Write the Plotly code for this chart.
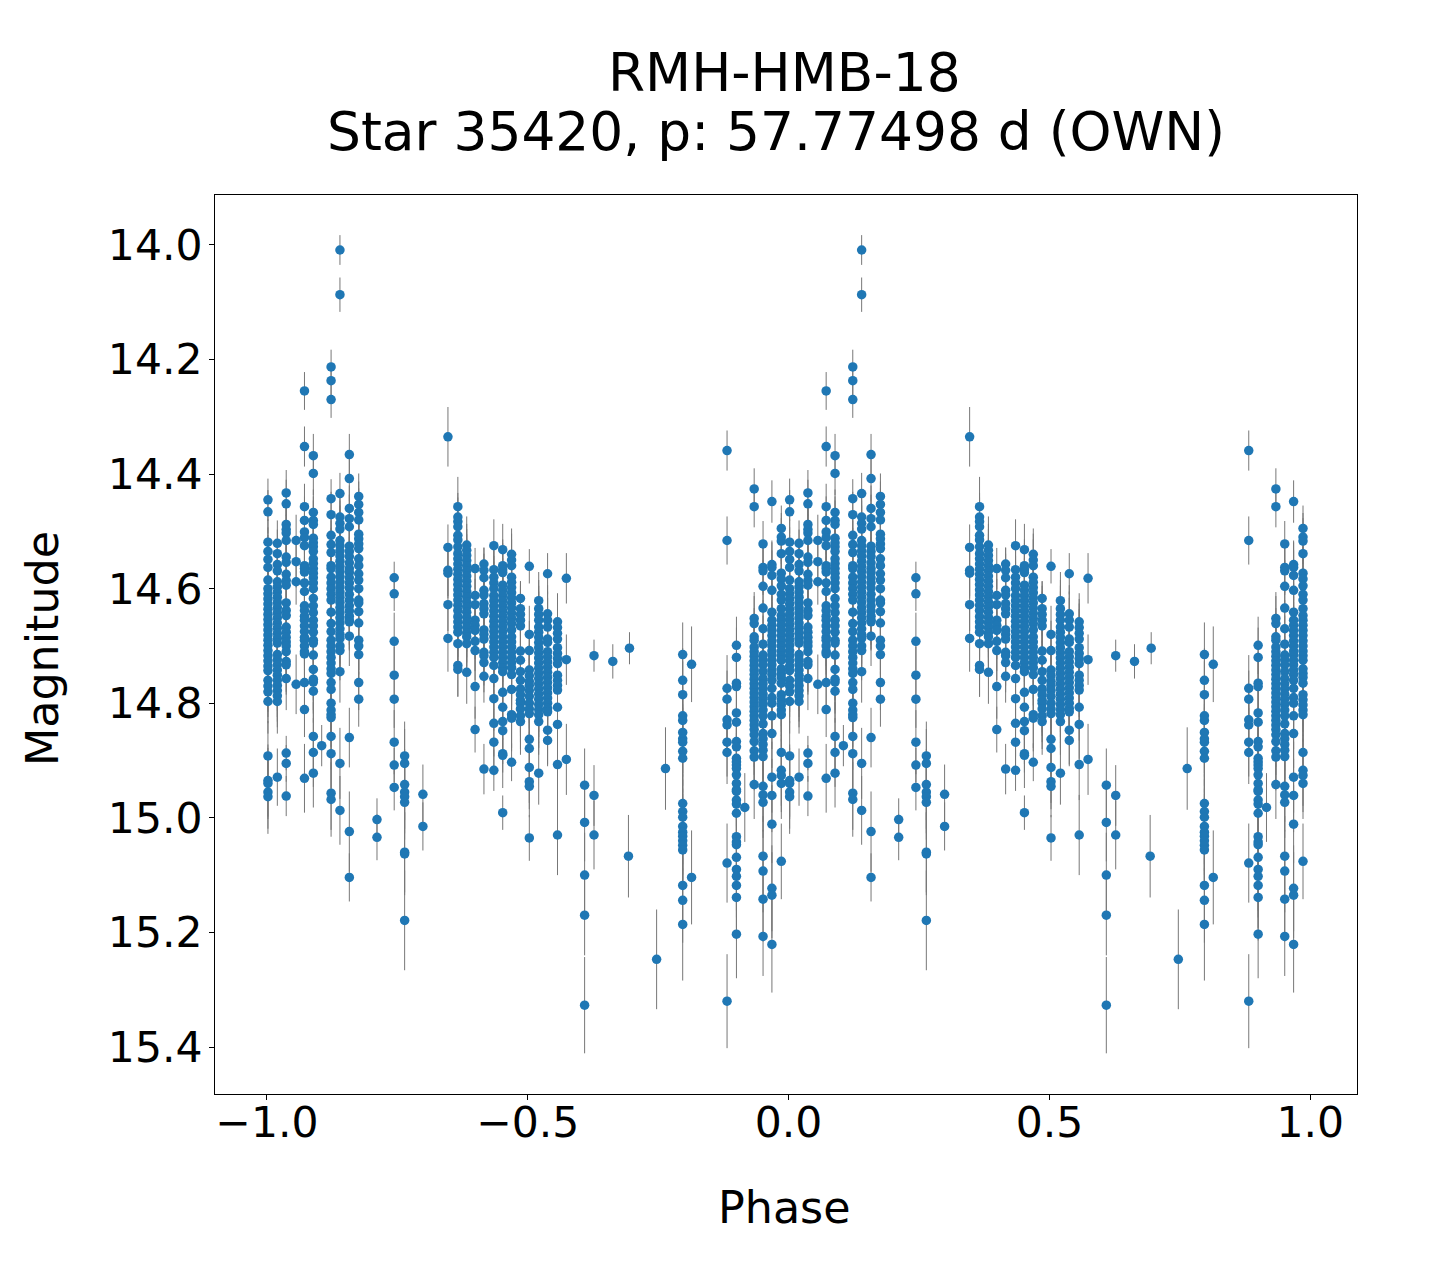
import numpy as np
import plotly.graph_objects as go

# (magnitude, error), one list per phase column
c0882 = [(14.359,.035),(14.516,.042),(14.774,.058),(14.793,.05),(14.829,.055),(14.838,.05),(14.868,.06),(14.886,.055),(15.079,.069),(15.320,.082)]
c0900 = [(14.699,.05),(14.720,.052),(14.765,.054),(14.771,.054),(14.817,.056),(14.833,.057),(14.867,.06),(14.876,.06),(14.896,.06),(14.902,.06),
         (14.908,.062),(14.914,.062),(14.925,.062),(14.940,.064),(14.951,.064),(14.954,.064),(14.969,.065),(14.976,.065),(14.992,.066),(15.033,.068),
         (15.042,.068),(15.047,.069),(15.069,.07),(15.090,.072),(15.102,.072),(15.118,.074),(15.139,.075),(15.203,.077)]
c0916 = [(14.982,.06)]
c0934 = [(14.426,.036),(14.457,.036),(14.652,.046),(14.661,.048),(14.684,.05),(14.690,.047),(14.702,.05),(14.710,.048),(14.718,.052),(14.726,.05),
         (14.734,.052),(14.742,.05),(14.750,.053),(14.758,.05),(14.766,.055),(14.774,.052),(14.782,.05),(14.790,.055),(14.798,.053),(14.806,.055),
         (14.814,.052),(14.822,.056),(14.830,.055),(14.838,.058),(14.846,.055),(14.855,.056),(14.867,.058),(14.883,.06),(14.894,.058),(14.942,.06)]
c0951 = [(14.522,.04),(14.563,.044),(14.569,.042),(14.596,.046),(14.634,.047),(14.670,.05),(14.697,.05),(14.716,.05),(14.724,.052),(14.733,.05),
         (14.745,.052),(14.757,.052),(14.766,.05),(14.775,.054),(14.784,.052),(14.793,.055),(14.802,.054),(14.812,.055),(14.822,.056),(14.836,.056),
         (14.853,.058),(14.862,.056),(14.872,.06),(14.882,.058),(14.893,.06),(14.945,.062),(14.960,.064),(14.973,.062),(15.067,.07),(15.093,.072),(15.142,.074),(15.207,.069)]
c0968 = [(14.448,.037),(14.558,.042),(14.563,.044),(14.577,.044),(14.603,.047),(14.641,.05),(14.655,.048),(14.664,.05),(14.673,.05),(14.682,.052),
         (14.691,.05),(14.700,.052),(14.709,.05),(14.716,.053),(14.725,.052),(14.733,.05),(14.742,.053),(14.750,.055),(14.760,.052),(14.774,.055),
         (14.790,.055),(14.800,.056),(14.822,.058),(14.853,.06),(14.929,.062),(14.961,.064),(15.011,.068),(15.123,.075),(15.135,.075),(15.221,.084)]
c0986 = [(14.495,.04),(14.510,.042),(14.517,.04),(14.539,.043),(14.573,.045),(14.583,.044),(14.595,.046),(14.610,.046),(14.620,.048),(14.635,.048),
         (14.647,.05),(14.655,.048),(14.664,.05),(14.673,.05),(14.682,.05),(14.691,.052),(14.700,.05),(14.709,.052),(14.717,.052),(14.725,.05),
         (14.740,.053),(14.748,.05),(14.755,.054),(14.765,.053),(14.785,.055),(14.794,.056),(14.803,.054),(14.812,.055),(14.820,.056),(14.886,.06),
         (14.917,.062),(14.926,.064),(14.940,.062),(15.076,.066)]
c0002 = [(14.445,.037),(14.466,.038),(14.519,.04),(14.535,.042),(14.549,.043),(14.563,.044),(14.585,.045),(14.600,.046),(14.609,.047),(14.618,.047),
         (14.627,.048),(14.636,.048),(14.645,.05),(14.654,.048),(14.663,.05),(14.672,.05),(14.681,.05),(14.690,.052),(14.699,.05),(14.708,.052),
         (14.717,.052),(14.726,.053),(14.735,.052),(14.743,.054),(14.760,.055),(14.770,.054),(14.780,.055),(14.797,.056),(14.892,.061),(14.935,.063),
         (14.940,.062),(14.955,.064),(14.963,.065)]
c0020 = [(14.521,.04),(14.539,.042),(14.558,.043),(14.569,.045),(14.588,.046),(14.597,.046),(14.606,.047),(14.615,.047),(14.624,.048),(14.633,.048),
         (14.642,.05),(14.651,.049),(14.660,.05),(14.669,.05),(14.678,.05),(14.687,.052),(14.695,.05),(14.715,.052),(14.724,.052),(14.733,.053),
         (14.742,.052),(14.751,.054),(14.760,.053),(14.769,.055),(14.778,.054),(14.787,.055),(14.797,.056),(14.929,.05)]
c0037 = [(14.433,.04),(14.452,.042),(14.488,.044),(14.497,.042),(14.503,.043),(14.516,.045),(14.545,.044),(14.554,.045),(14.575,.046),(14.586,.045),
         (14.594,.047),(14.625,.047),(14.638,.048),(14.647,.05),(14.667,.05),(14.676,.05),(14.685,.052),(14.693,.05),(14.700,.052),(14.710,.052),
         (14.727,.053),(14.733,.052),(14.757,.055),(14.887,.03),(14.905,.032),(14.962,.035)]
c0056 = [(14.516,.045),(14.553,.045),(14.588,.04),(14.767,.052)]
c0072 = [(14.255,.033),(14.352,.035),(14.457,.04),(14.481,.042),(14.501,.04),(14.511,.042),(14.525,.043),(14.560,.045),(14.565,.044),(14.571,.045),
         (14.590,.046),(14.605,.047),(14.630,.048),(14.638,.048),(14.648,.05),(14.655,.048),(14.665,.05),(14.675,.05),(14.685,.05),(14.690,.052),
         (14.700,.05),(14.710,.052),(14.714,.05),(14.764,.054),(14.811,.048),(14.931,.06)]
c0089 = [(14.368,.038),(14.399,.038),(14.467,.04),(14.481,.042),(14.488,.042),(14.512,.043),(14.520,.043),(14.527,.044),(14.535,.044),(14.548,.045),
         (14.556,.045),(14.565,.046),(14.573,.046),(14.581,.046),(14.590,.047),(14.600,.047),(14.617,.048),(14.630,.048),(14.642,.05),(14.655,.05),
         (14.665,.05),(14.676,.051),(14.690,.052),(14.695,.05),(14.716,.052),(14.741,.054),(14.758,.054),(14.763,.055),(14.779,.055),(14.858,.06),
         (14.886,.06),(14.922,.06)]
c0105 = [(14.874,.036)]
c0123 = [(14.213,.03),(14.237,.03),(14.270,.032),(14.443,.034),(14.471,.04),(14.507,.042),(14.523,.042),(14.537,.043),(14.560,.044),(14.565,.045),
         (14.580,.046),(14.590,.045),(14.600,.047),(14.610,.046),(14.620,.048),(14.641,.048),(14.661,.05),(14.675,.05),(14.690,.05),(14.700,.052),
         (14.710,.05),(14.720,.052),(14.730,.052),(14.740,.053),(14.748,.052),(14.764,.054),(14.776,.054),(14.800,.056),(14.812,.055),(14.820,.056),
         (14.825,.055),(14.858,.058),(14.888,.06),(14.957,.064),(14.968,.065)]
c0140 = [(14.009,.026),(14.087,.03),(14.434,.036),(14.475,.04),(14.486,.04),(14.496,.041),(14.516,.042),(14.525,.043),(14.534,.043),(14.543,.044),
         (14.552,.044),(14.561,.045),(14.570,.045),(14.579,.046),(14.588,.046),(14.597,.047),(14.606,.047),(14.615,.048),(14.624,.048),(14.633,.049),
         (14.642,.05),(14.651,.05),(14.660,.05),(14.670,.051),(14.680,.051),(14.687,.052),(14.700,.052),(14.708,.052),(14.745,.054),(14.905,.062),(14.987,.06)]
c0158 = [(14.366,.036),(14.408,.04),(14.460,.04),(14.478,.042),(14.492,.042),(14.526,.044),(14.535,.044),(14.544,.045),(14.555,.045),(14.565,.046),
         (14.572,.046),(14.581,.047),(14.590,.047),(14.599,.048),(14.610,.048),(14.620,.049),(14.630,.05),(14.639,.05),(14.648,.05),(14.655,.051),
         (14.658,.05),(14.683,.052),(14.860,.052),(15.024,.07),(15.104,.042)]
c0176 = [(14.439,.04),(14.453,.04),(14.467,.042),(14.480,.042),(14.505,.043),(14.513,.044),(14.522,.044),(14.530,.045),(14.548,.045),(14.560,.046),
         (14.574,.046),(14.585,.047),(14.600,.047),(14.620,.048),(14.625,.048),(14.640,.05),(14.660,.05),(14.690,.052),(14.700,.05),(14.715,.052),
         (14.764,.048),(14.793,.048)]
c0211 = [(15.003,.037),(15.034,.04)]
c0244 = [(14.581,.028),(14.609,.03),(14.692,.05),(14.751,.05),(14.793,.05),(14.868,.056),(14.908,.03),(14.947,.04)]
c0264 = [(14.892,.06),(14.905,.06),(14.942,.062),(14.955,.064),(14.963,.064),(14.973,.065),(15.060,.07),(15.063,.072),(15.179,.087)]
c0299 = [(14.959,.052),(15.015,.042)]
c0347 = [(14.335,.052),(14.528,.04),(14.568,.045),(14.573,.044),(14.628,.046),(14.687,.058)]
c0366 = [(14.457,.052),(14.475,.042),(14.483,.042),(14.492,.043),(14.507,.043),(14.515,.044),(14.527,.044),(14.539,.045),(14.548,.045),(14.557,.045),
         (14.566,.046),(14.575,.046),(14.584,.047),(14.593,.047),(14.602,.048),(14.611,.048),(14.620,.048),(14.629,.05),(14.638,.05),(14.649,.05),
         (14.658,.05),(14.667,.052),(14.676,.052),(14.696,.052),(14.734,.054),(14.741,.048)]
c0383 = [(14.524,.05),(14.533,.046),(14.542,.046),(14.551,.046),(14.560,.047),(14.569,.047),(14.578,.047),(14.587,.048),(14.596,.048),(14.605,.048),
         (14.614,.05),(14.623,.05),(14.632,.05),(14.641,.05),(14.650,.051),(14.659,.051),(14.668,.052),(14.677,.052),(14.684,.052),(14.696,.052),(14.746,.055)]
c0399 = [(14.565,.036),(14.612,.04),(14.628,.045),(14.655,.048),(14.664,.05),(14.673,.05),(14.692,.052),(14.708,.052),(14.771,.056),(14.846,.04)]
c0416 = [(14.557,.028),(14.568,.04),(14.581,.042),(14.603,.044),(14.611,.046),(14.626,.046),(14.635,.047),(14.644,.048),(14.672,.05),(14.680,.05),
         (14.688,.05),(14.711,.052),(14.717,.052),(14.729,.052),(14.753,.046),(14.915,.044)]
c0435 = [(14.525,.046),(14.567,.048),(14.580,.046),(14.590,.047),(14.600,.047),(14.612,.048),(14.621,.048),(14.630,.049),(14.639,.05),(14.648,.05),
         (14.657,.05),(14.666,.05),(14.675,.051),(14.684,.051),(14.693,.052),(14.702,.052),(14.711,.052),(14.720,.052),(14.734,.054),(14.757,.054),
         (14.792,.056),(14.835,.058),(14.868,.058),(14.917,.036)]
c0452 = [(14.532,.045),(14.560,.046),(14.567,.046),(14.572,.047),(14.594,.047),(14.603,.048),(14.612,.048),(14.621,.049),(14.630,.05),(14.639,.05),
         (14.648,.05),(14.657,.05),(14.666,.05),(14.675,.051),(14.684,.051),(14.693,.052),(14.702,.052),(14.711,.052),(14.720,.053),(14.729,.053),
         (14.738,.053),(14.745,.054),(14.781,.056),(14.807,.057),(14.832,.058),(14.848,.058),(14.888,.06),(14.891,.03),(14.991,.03)]
c0469 = [(14.540,.045),(14.550,.046),(14.560,.046),(14.580,.047),(14.589,.047),(14.598,.048),(14.607,.048),(14.616,.049),(14.625,.05),(14.634,.05),
         (14.643,.05),(14.652,.05),(14.661,.05),(14.672,.051),(14.684,.052),(14.693,.052),(14.702,.052),(14.711,.052),(14.720,.053),(14.729,.053),
         (14.738,.054),(14.750,.054),(14.776,.056),(14.820,.058),(14.826,.058),(14.903,.033)]
c0486 = [(14.617,.03),(14.635,.048),(14.645,.05),(14.655,.05),(14.665,.05),(14.709,.052),(14.725,.053),(14.745,.054),(14.760,.055),(14.775,.056),
         (14.785,.056),(14.795,.056),(14.800,.057),(14.810,.058),(14.822,.058),(14.832,.058)]
c0503 = [(14.561,.03),(14.680,.05),(14.708,.052),(14.742,.054),(14.752,.054),(14.762,.055),(14.769,.055),(14.778,.056),(14.788,.056),(14.800,.056),
         (14.810,.057),(14.818,.058),(14.863,.06),(14.879,.06),(14.912,.062),(14.937,.062),(14.945,.04),(15.035,.04)]
c0521 = [(14.621,.05),(14.635,.05),(14.645,.05),(14.655,.05),(14.667,.051),(14.676,.051),(14.685,.052),(14.694,.052),(14.703,.052),(14.712,.053),
         (14.721,.053),(14.730,.053),(14.739,.054),(14.748,.054),(14.757,.055),(14.766,.055),(14.775,.056),(14.784,.056),(14.793,.057),(14.802,.057),
         (14.811,.058),(14.820,.058),(14.832,.058),(14.922,.055)]
c0538 = [(14.574,.036),(14.644,.05),(14.655,.05),(14.667,.051),(14.688,.052),(14.694,.052),(14.710,.052),(14.719,.053),(14.728,.053),(14.737,.054),
         (14.746,.054),(14.755,.055),(14.764,.055),(14.773,.056),(14.782,.056),(14.791,.057),(14.800,.057),(14.809,.058),(14.815,.058),(14.847,.06),(14.865,.045)]
c0557 = [(14.658,.05),(14.668,.05),(14.678,.052),(14.688,.052),(14.703,.052),(14.713,.052),(14.722,.053),(14.731,.053),(14.751,.054),(14.760,.055),
         (14.769,.055),(14.777,.056),(14.807,.058),(14.837,.06),(14.907,.062),(15.030,.07)]
c0574 = [(14.582,.044),(14.724,.044),(14.898,.062)]
c0609 = [(14.943,.064),(15.008,.068),(15.100,.074),(15.170,.07),(15.327,.084)]
c0627 = [(14.717,.028),(14.961,.053),(15.030,.06)]
c0663 = [(14.727,.03)]
c0693 = [(15.067,.072)]
c0695 = [(14.704,.028)]
c0747 = [(15.247,.087)]
c0764 = [(14.914,.072)]
c0797 = [(14.715,.056),(14.760,.056),(14.785,.058),(14.822,.058),(14.830,.058),(14.851,.06),(14.862,.06),(14.868,.06),(14.884,.06),(14.896,.06),
         (14.975,.064),(14.989,.065),(14.999,.066),(15.015,.066),(15.025,.067),(15.032,.067),(15.040,.068),(15.048,.068),(15.056,.068),(15.118,.072),(15.144,.074),(15.186,.098)]
c0814 = [(14.732,.066),(15.104,.082)]

phase_columns = {
    0.882: c0882, 0.900: c0900, 0.916: c0916, 0.934: c0934, 0.951: c0951, 0.968: c0968, 0.986: c0986,
    0.002: c0002, 0.020: c0020, 0.037: c0037, 0.056: c0056, 0.072: c0072,
    0.089: c0089, 0.105: c0105, 0.123: c0123, 0.140: c0140, 0.158: c0158,
    0.176: c0176, 0.211: c0211, 0.244: c0244, 0.264: c0264, 0.299: c0299,
    0.347: c0347, 0.366: c0366, 0.383: c0383, 0.399: c0399, 0.416: c0416,
    0.435: c0435, 0.452: c0452, 0.469: c0469, 0.486: c0486, 0.503: c0503,
    0.521: c0521, 0.538: c0538, 0.557: c0557, 0.574: c0574, 0.609: c0609,
    0.627: c0627, 0.663: c0663, 0.693: c0693, 0.695: c0695, 0.747: c0747,
    0.764: c0764, 0.797: c0797, 0.814: c0814,
}
x_ticks = [-1.0, -0.5, 0.0, 0.5, 1.0]
y_ticks = [14.0, 14.2, 14.4, 14.6, 14.8, 15.0, 15.2, 15.4]

phase = []
mag = []
err = []
for p, col in phase_columns.items():
    for m, e in col:
        phase.append(p)
        mag.append(m)
        err.append(e)
phase = np.array(phase)

# folded curve is plotted twice, one cycle to the left
x = np.concatenate([phase - 1, phase])
y = mag + mag
e = err + err

fig = go.Figure(go.Scatter(
    x=x, y=y, mode="markers",
    marker=dict(color="#1f77b4", size=9.5, line_width=0),
    error_y=dict(type="data", array=e, visible=True, color="#777777", thickness=1, width=0),
    hoverinfo="skip",
))

ax = dict(showline=True, mirror=True, linecolor="black", linewidth=1, showgrid=False, zeroline=False,
          ticks="outside", ticklen=5, tickwidth=1, tickcolor="black", tickfont_size=42.5)
fig.update_layout(
    width=1440, height=1280, autosize=False,
    margin=dict(l=207, r=91, t=187, b=194),
    paper_bgcolor="white", plot_bgcolor="white",
    font=dict(family="DejaVu Sans", color="black"),
    showlegend=False,
    xaxis=dict(range=[-1.0995, 1.0895], tickvals=x_ticks, tickformat=".1f", ticklabelstandoff=-14, **ax),
    yaxis=dict(range=[15.482, 13.913], tickvals=y_ticks, tickformat=".1f", ticklabelstandoff=-2, **ax),
    annotations=[
        dict(text="RMH-HMB-18", xref="paper", yref="paper", x=0.4990, y=1.136, yanchor="middle", showarrow=False, font_size=53.4),
        dict(text="Star 35420, p: 57.77498 d (OWN)", xref="paper", yref="paper", x=0.4915, y=1.071, yanchor="middle", showarrow=False, font_size=53.4),
        dict(text="Phase", xref="paper", yref="paper", x=0.4990, y=-0.1267, yanchor="middle", showarrow=False, font_size=44.4),
        dict(text="Magnitude", xref="paper", yref="paper", x=-0.1510, y=0.4955, xanchor="center", yanchor="middle", textangle=-90, showarrow=False, font_size=44.4),
    ],
)

fig.write_html("out.html")
